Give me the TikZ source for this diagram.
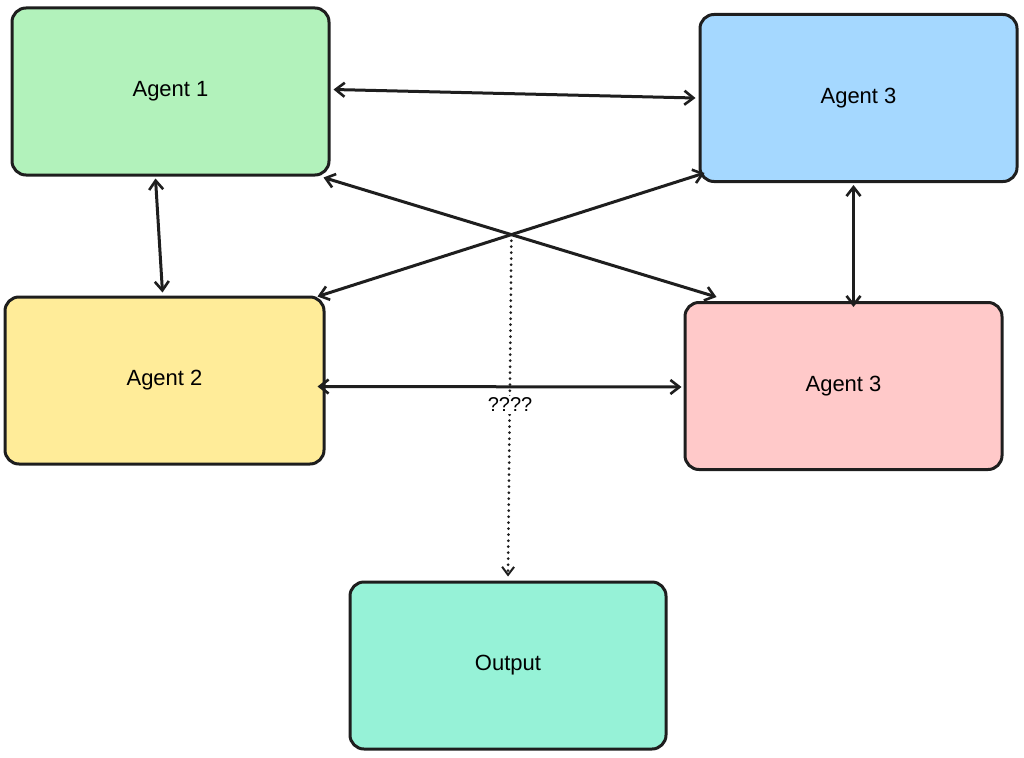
\documentclass[tikz,border=0pt]{standalone}
\usepackage{fontspec}
\setmainfont{Liberation Sans}
\usetikzlibrary{arrows.meta,calc}
\definecolor{cgreen}{HTML}{B2F2BB}
\definecolor{cblue}{HTML}{A5D8FF}
\definecolor{cyellow}{HTML}{FFEC99}
\definecolor{cpink}{HTML}{FFC9C9}
\definecolor{cteal}{HTML}{96F2D7}
\definecolor{ink}{HTML}{1E1E1E}
\begin{document}
\begin{tikzpicture}[x=1pt,y=-1pt,
  agentbox/.style={draw=ink, line width=3pt, rounded corners=14pt, minimum width=317pt, minimum height=167pt, inner sep=0pt, font=\fontsize{22}{26}\selectfont},
  link/.style={draw=ink, line width=3pt, {Straight Barb[length=9pt,width=14pt,line width=2.6pt]}-{Straight Barb[length=9pt,width=14pt,line width=2.6pt]}},
  dotlink/.style={draw=ink, line width=3pt, line cap=round, dash pattern=on 0pt off 6pt, -{Straight Barb[length=8pt,width=12pt,line width=2pt]}},
  lbl/.style={fill=white, inner sep=2pt, font=\fontsize{20}{22}\selectfont}]
\useasboundingbox (0,0) rectangle (1024,757);
\node[agentbox, fill=cgreen]  (a1) at (170.5,91.5) {Agent 1};
\node[agentbox, fill=cblue]   (b3) at (858.5,98)   {Agent 3};
\node[agentbox, fill=cyellow, minimum width=319pt] (a2) at (164.5,380.5) {Agent 2};
\node[agentbox, fill=cpink]   (p3) at (843.5,386)  {Agent 3};
\node[agentbox, fill=cteal, minimum width=316pt]   (out) at (508,665.5) {Output};
% connectors
\draw[link] ($(a1.east)+(3,-2)$) -- ($(b3.west)+(-3,0)$);
\draw[link] ($(a1.south)+(-15,2)$) -- ($(a2.north)+(-2,-3)$);
\draw[link] ($(b3.south)+(-5,2)$) -- ($(p3.north)+(10,6)$);
\draw[link] ($(a2.east)+(-8,6)$) -- ($(p3.west)+(-2,1)$);
\coordinate (c1) at ($(a1.south east)+(-7,1)$);
\coordinate (c2) at ($(p3.north west)+(33,-4)$);
\coordinate (c3) at ($(a2.north east)+(-8,1)$);
\coordinate (c4) at ($(b3.south west)+(6,-10)$);
\draw[link] (c1) -- (c2);
\draw[link] (c3) -- (c4);
\coordinate (x) at (intersection of c1--c2 and c3--c4);
\draw[dotlink] (x) -- ($(out.north)+(0,-4)$);
\node[lbl] (q) at (510,405) {????};
\end{tikzpicture}
\end{document}
